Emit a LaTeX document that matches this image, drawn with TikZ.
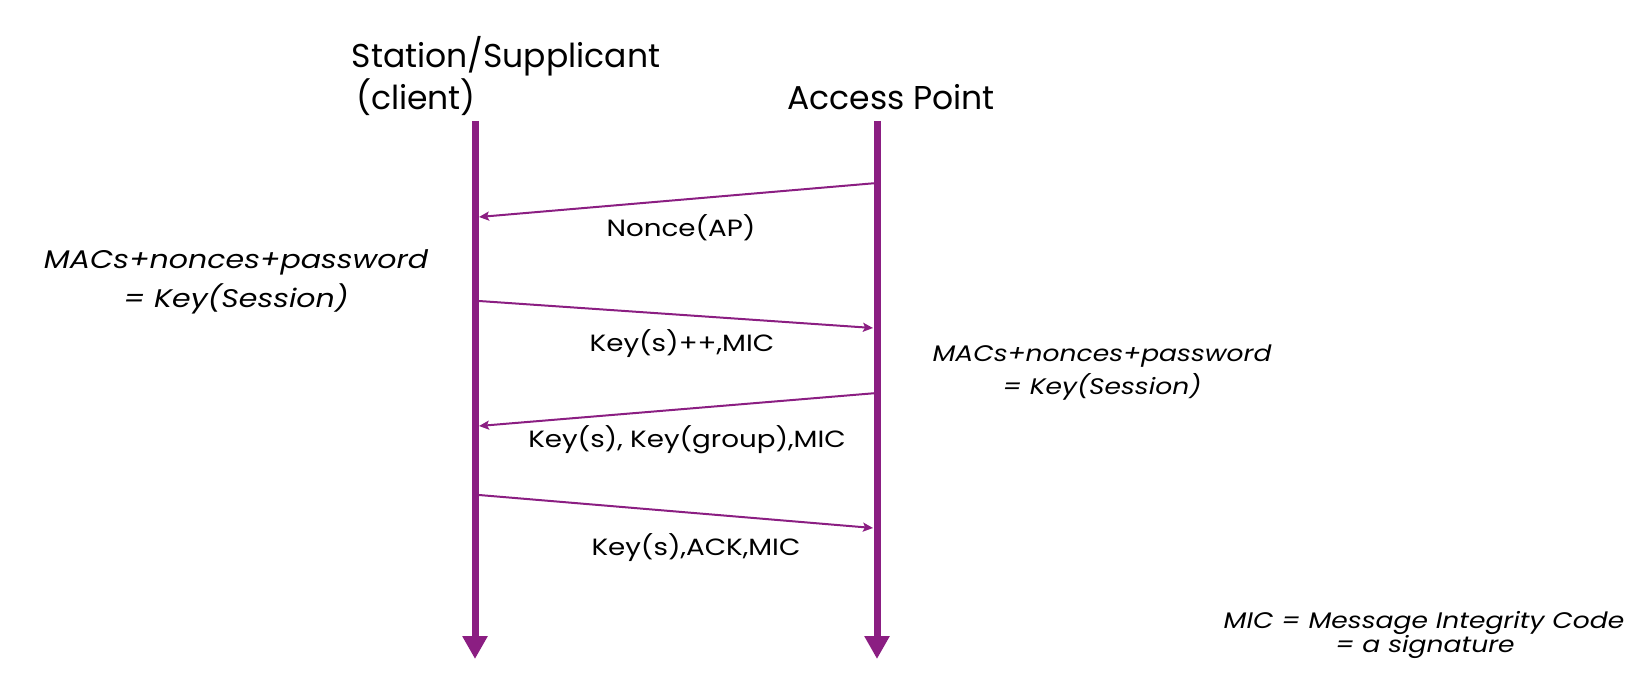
\documentclass[tikz,border=0pt]{standalone}
\usepackage{fontspec}
\setmainfont{Poppins}
\newfontfamily\widefont[FakeStretch=1.18]{Poppins}
\usetikzlibrary{arrows.meta}
\definecolor{lifepurple}{RGB}{139,30,130}
\tikzset{
  lifeline/.style={draw=lifepurple, line width=7pt, -{Triangle[length=23pt,width=24pt]}},
  msg/.style={draw=lifepurple, line width=2pt, -{Stealth[length=10pt,width=9pt,inset=2pt]}},
  head/.style={anchor=base, inner sep=0pt, font=\fontsize{33}{38}\selectfont},
  lbl/.style={anchor=base, inner sep=0pt, font=\widefont\fontsize{23.5}{28}\selectfont},
  note/.style={anchor=base, inner sep=0pt, font=\widefont\itshape\fontsize{25.5}{30}\selectfont},
  notes/.style={anchor=base, inner sep=0pt, font=\widefont\itshape\fontsize{22.5}{26}\selectfont},
}
\begin{document}
\begin{tikzpicture}[x=1pt,y=-1pt]
\useasboundingbox (0,0) rectangle (1646,700);
% lifelines
\coordinate (sTop) at (475,121);
\coordinate (sEnd) at (475,659);
\coordinate (aTop) at (877,121);
\coordinate (aEnd) at (877,659);
\draw[lifeline] (sTop) -- (sEnd);
\draw[lifeline] (aTop) -- (aEnd);
% headers
\node[head] (hs1) at (506,68) {Station/Supplicant};
\node[head] (hs2) at (416,110) {(client)};
\node[head] (ha) at (891,110) {Access Point};
% message endpoints
\coordinate (m1a) at (877,183);
\coordinate (m1s) at (479,217);
\coordinate (m2s) at (479,301);
\coordinate (m2a) at (873,328);
\coordinate (m3a) at (877,393);
\coordinate (m3s) at (479,426);
\coordinate (m4s) at (479,495);
\coordinate (m4a) at (873,528);
\draw[msg] (m1a) -- (m1s);
\draw[msg] (m2s) -- (m2a);
\draw[msg] (m3a) -- (m3s);
\draw[msg] (m4s) -- (m4a);
% labels
\node[lbl] (l1) at (681,237) {Nonce(AP)};
\node[lbl] (l2) at (682,352) {Key(s)++,MIC};
\node[lbl] (l3) at (687,447) {Key(s), Key(group),MIC};
\node[lbl] (l4) at (696,555) {Key(s),ACK,MIC};
% notes
\node[note] (n1a) at (236,269) {MACs+nonces+password};
\node[note] (n1b) at (236,308) {= Key(Session)};
\node[notes] (n2a) at (1102,362) {MACs+nonces+password};
\node[notes] (n2b) at (1102,395) {= Key(Session)};
\node[notes] (n3a) at (1424,628) {MIC = Message Integrity Code};
\node[notes] (n3b) at (1425,652) {= a signature};
\end{tikzpicture}
\end{document}
